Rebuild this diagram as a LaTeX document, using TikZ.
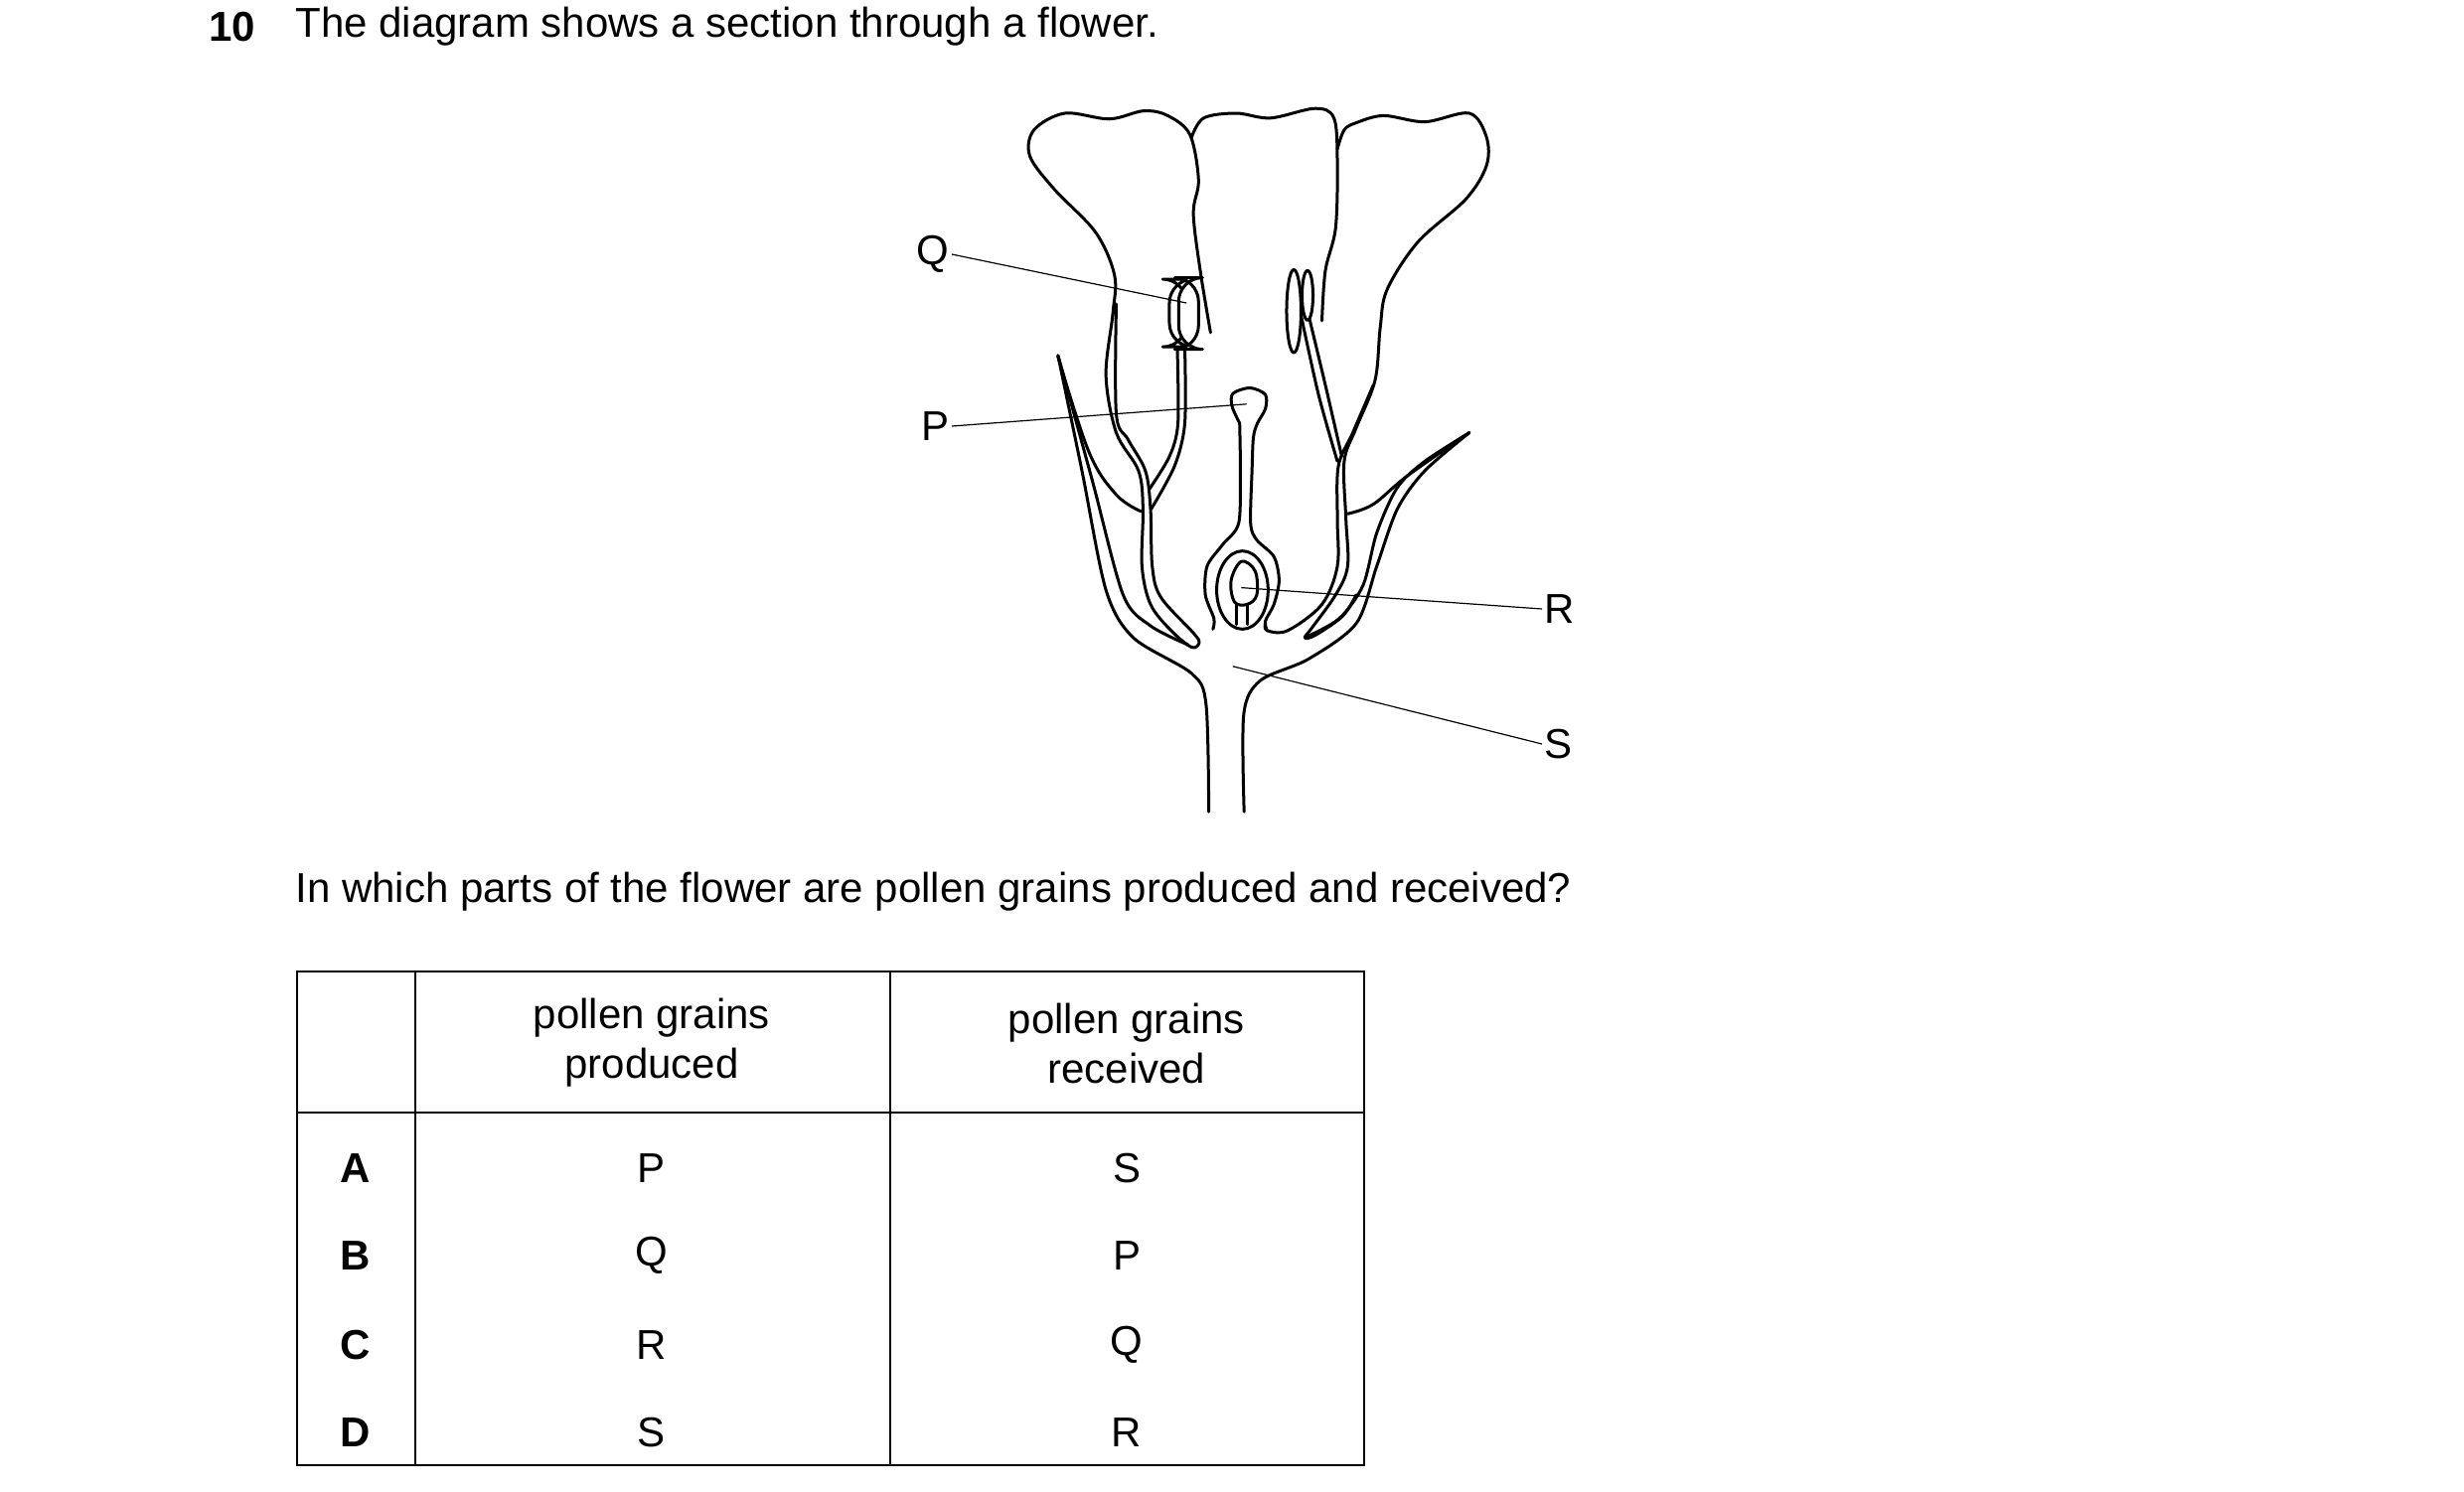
\documentclass[tikz,border=0pt]{standalone}
\usepackage{fontspec}
\setmainfont{Liberation Sans}
\tikzset{
  flower/.style={line width=1.5pt, line cap=round, line join=round},
  leader/.style={line width=0.6pt},
  lbl/.style={inner sep=1pt, font=\fontsize{21}{25}\selectfont},
  cell/.style={inner sep=0pt, font=\fontsize{21}{25}\selectfont, align=center},
  grid/.style={line width=1pt}
}
\begin{document}
\begin{tikzpicture}[x=0.5pt, y=-0.5pt]
\useasboundingbox (0,0) rectangle (2480,1501);

  %% question
  \node[cell, anchor=west, font=\fontsize{21}{25}\selectfont\bfseries] (num) at (210,27) {10};
  \node[cell, anchor=west] (intro) at (297,27) {The diagram shows a section through a flower.};
  \node[cell, anchor=west] (ask) at (297,898) {In which parts of the flower are pollen grains produced and received?};

  %% flower
  \begin{scope}[shift={(1020,90)}, xscale=0.345, yscale=0.48]
    % left petal and tube
    \draw[flower] plot[smooth, tension=0.55] coordinates {(575,510) (545,380) (525,260) (540,190) (515,95) (450,55) (380,45) (280,62) (150,50) (60,85) (48,140) (120,210) (240,300) (295,390) (290,470) (270,600) (300,720) (365,800) (378,880) (375,1000) (400,1080) (460,1135) (520,1170) (542,1160) (525,1140) (430,1065) (405,1000) (400,880) (385,800) (335,735) (300,680) (300,450)};
    % middle petal
    \draw[flower] plot[smooth, tension=0.55] coordinates {(520,100) (555,60) (650,50) (750,60) (880,40) (935,60) (945,150) (940,290) (910,380) (900,485)};
    % right petal and tube
    \draw[flower] plot[smooth, tension=0.55] coordinates {(945,125) (965,85) (1000,70) (1080,55) (1200,68) (1330,50) (1380,100) (1380,160) (1320,230) (1180,320) (1090,420) (1070,500) (1055,610) (1000,710) (965,780) (970,900) (975,1000) (940,1060) (870,1130) (850,1150) (880,1145) (960,1105) (1000,1060)};
    \draw[flower] plot[smooth, tension=0.55] coordinates {(1050,620) (990,720) (948,790) (945,900) (945,1000) (900,1080) (800,1135) (740,1135) (735,1120)};
    % corolla lower edges
    \draw[flower] plot[smooth, tension=0.6] coordinates {(130,560) (220,760) (300,850) (372,885)};
    \draw[flower] plot[smooth, tension=0.6] coordinates {(975,890) (1050,870) (1150,810) (1330,720)};
    % left sepal
    \draw[flower] plot[smooth, tension=0.5] coordinates {(130,558) (200,800) (270,1050) (350,1150) (520,1225) (562,1290) (570,1515)};
    \draw[flower] plot[smooth, tension=0.5] coordinates {(130,558) (230,820) (320,1060) (400,1125) (510,1165)};
    % right sepal
    \draw[flower] plot[smooth, tension=0.5] coordinates {(1330,720) (1200,800) (1120,880) (1060,1000) (1000,1120) (860,1195) (720,1240) (672,1310) (673,1515)};
    \draw[flower] plot[smooth, tension=0.5] coordinates {(1330,720) (1200,780) (1120,835) (1060,930) (1020,1040) (950,1110) (855,1148)};
    % left stamen
    \draw[flower] plot[smooth, tension=0.5] coordinates {(478,540) (480,700) (455,770) (395,840)};
    \draw[flower] plot[smooth, tension=0.5] coordinates {(500,540) (500,700) (470,790) (402,880)};
    \draw[flower, fill=white, rounded corners=12pt] (455,398) rectangle (505,540);
    \draw[flower, fill=white, rounded corners=12pt] (482,395) rectangle (540,545);
    % right stamen
    \draw[flower] plot[smooth, tension=0.5] coordinates {(838,470) (890,640) (945,780)};
    \draw[flower] plot[smooth, tension=0.5] coordinates {(860,470) (910,620) (958,770)};
    \draw[flower, fill=white] (858,432) ellipse (16 and 52);
    \draw[flower, fill=white] (818,465) ellipse (21 and 87);
    % pistil
    \draw[flower] plot[smooth, tension=0.5] coordinates {(660,700) (638,665) (640,638) (690,626) (735,640) (735,670) (712,700) (700,730) (696,800) (692,910) (710,945) (760,980) (775,1030) (760,1080) (735,1115) (740,1135)};
    \draw[flower] plot[smooth, tension=0.5] coordinates {(660,700) (662,800) (657,910) (610,955) (565,1000) (560,1060) (585,1110) (582,1132)};
    \draw[flower] (668,1050) ellipse (75 and 82);
    \draw[flower] plot[smooth cycle, tension=0.6] coordinates {(645,1075) (635,1030) (665,990) (705,1010) (710,1060) (682,1080)};
    \draw[flower] (652,1080) -- (652,1122);
    \draw[flower] (682,1080) -- (682,1122);
    % leader ends
    \coordinate (qend) at (505,448);
    \coordinate (pend) at (680,660);
    \coordinate (rend) at (665,1045);
    \coordinate (send) at (640,1210);
  \end{scope}

  %% labels
  \node[lbl, anchor=east] (Q) at (958,256) {Q};
  \node[lbl, anchor=east] (P) at (958,429) {P};
  \node[lbl, anchor=west] (R) at (1552,613) {R};
  \node[lbl, anchor=west] (S) at (1552,749) {S};
  \draw[leader] (Q.east) -- (qend);
  \draw[leader] (P.east) -- (pend);
  \draw[leader] (R.west) -- (rend);
  \draw[leader] (S.west) -- (send);

  %% table
  \draw[grid] (299,978) rectangle (1373,1475);
  \draw[grid] (299,1120) -- (1373,1120);
  \draw[grid] (418,978) -- (418,1475);
  \draw[grid] (896,978) -- (896,1475);
  \node[cell] (hprod) at (656,1050) {pollen grains\\produced};
  \node[cell] (hrecv) at (1134,1050) {pollen grains\\received};
  \foreach \opt/\prod/\recv/\yy in {A/P/S/1176, B/Q/P/1264, C/R/Q/1354, D/S/R/1442}{
    \node[cell, font=\fontsize{21}{25}\selectfont\bfseries] (opt\opt) at (358,\yy) {\opt};
    \node[cell] (prod\opt) at (656,\yy) {\prod};
    \node[cell] (recv\opt) at (1134,\yy) {\recv};
  }
\end{tikzpicture}
\end{document}
